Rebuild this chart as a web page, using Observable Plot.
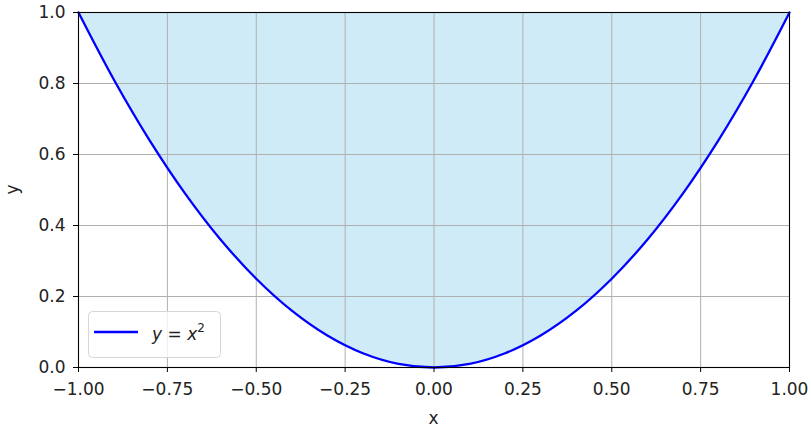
<!DOCTYPE html>
<html>
<head>
<meta charset="utf-8">
<script src="https://cdn.jsdelivr.net/npm/d3@7"></script>
<script src="https://cdn.jsdelivr.net/npm/@observablehq/plot@0.6"></script>
<style>
  html, body { margin: 0; padding: 0; background: #fff; }
  #chart { position: relative; width: 811px; height: 429px; }
  svg { font-family: "DejaVu Sans", sans-serif; }
</style>
</head>
<body>
<div id="chart"></div>
<script>
const xValues = [-1.0, -0.9, -0.8, -0.7, -0.6, -0.5, -0.4, -0.3, -0.2, -0.1, 0.0,
                 0.1, 0.2, 0.3, 0.4, 0.5, 0.6, 0.7, 0.8, 0.9, 1.0];
const yValues = [1.00, 0.81, 0.64, 0.49, 0.36, 0.25, 0.16, 0.09, 0.04, 0.01, 0.00,
                 0.01, 0.04, 0.09, 0.16, 0.25, 0.36, 0.49, 0.64, 0.81, 1.00];
const fillTop = 1.0;
const xTicks = [-1.0, -0.75, -0.5, -0.25, 0.0, 0.25, 0.5, 0.75, 1.0];
const yTicks = [0.0, 0.2, 0.4, 0.6, 0.8, 1.0];

const data = xValues.map((x, i) => ({x, y: yValues[i], top: fillTop}));

const W = 811, H = 429;
const mL = 78, mR = 22, mT = 12, mB = 62;
const FS = 17;

const plot = Plot.plot({
  width: W,
  height: H,
  marginLeft: mL,
  marginRight: mR,
  marginTop: mT,
  marginBottom: mB,
  style: {fontFamily: "DejaVu Sans, sans-serif", fontSize: FS + "px", color: "#222", background: "#fff"},
  x: {domain: [-1, 1], label: null},
  y: {domain: [0, 1], label: null},
  marks: [
    Plot.areaY(data, {x: "x", y1: "y", y2: "top", fill: "#cfebf7", curve: "catmull-rom"}),
    Plot.gridX(xTicks, {stroke: "#b0b0b0", strokeOpacity: 1, strokeWidth: 1}),
    Plot.gridY(yTicks, {stroke: "#b0b0b0", strokeOpacity: 1, strokeWidth: 1}),
    Plot.line(data, {x: "x", y: "y", stroke: "#0000ff", strokeWidth: 2.3, curve: "catmull-rom"}),
    Plot.frame({stroke: "#000", strokeWidth: 1.1}),
    Plot.axisX({ticks: xTicks, tickFormat: d3.format(".2f"), tickSize: 5, tickPadding: 10, stroke: "#000", fill: "#222", fontSize: FS, label: null}),
    Plot.axisY({ticks: yTicks, tickFormat: d3.format(".1f"), tickSize: 5, tickPadding: 8, stroke: "#000", fill: "#222", fontSize: FS, label: null})
  ]
});

document.getElementById("chart").appendChild(plot);

const svg = d3.select(plot);
// axis labels
svg.append("text").attr("x", mL + (W - mL - mR) / 2).attr("y", 424)
  .attr("text-anchor", "middle").attr("font-size", FS).attr("fill", "#222").text("x");
svg.append("text").attr("transform", `translate(18,${mT + (H - mT - mB) / 2}) rotate(-90)`)
  .attr("text-anchor", "middle").attr("font-size", FS).attr("fill", "#222").text("y");

// legend
const lg = svg.append("g");
lg.append("rect").attr("x", 88.5).attr("y", 311.5).attr("width", 132).attr("height", 46)
  .attr("rx", 4).attr("fill", "#fff").attr("fill-opacity", 0.8).attr("stroke", "#d6d6d6");
lg.append("line").attr("x1", 94).attr("x2", 138).attr("y1", 332).attr("y2", 332)
  .attr("stroke", "#0000ff").attr("stroke-width", 2.3);
const t = lg.append("text").attr("x", 152).attr("y", 340).attr("font-size", FS)
  .attr("fill", "#222").attr("text-anchor", "start");
t.append("tspan").attr("font-style", "italic").text("y");
t.append("tspan").text(" = ");
t.append("tspan").attr("font-style", "italic").text("x");
t.append("tspan").attr("font-size", 12).attr("dy", -8).text("2");
</script>
</body>
</html>
